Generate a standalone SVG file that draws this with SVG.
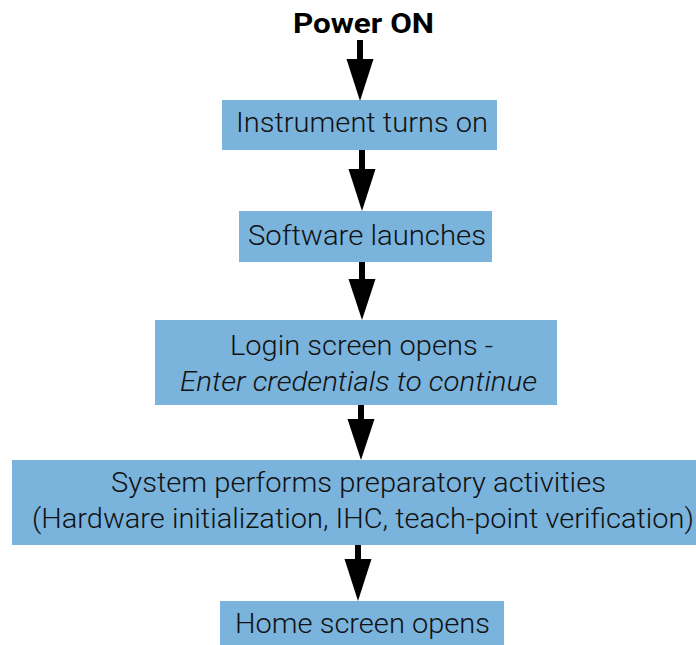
<svg xmlns="http://www.w3.org/2000/svg" width="696" height="645" viewBox="0 0 696 645">
<style>
.box{fill:#7ab3dc}
.t{font-family:Roboto,"Liberation Sans",sans-serif;font-weight:300;font-size:27px;fill:#111;text-anchor:middle}
.title{font-family:Roboto,"Liberation Sans",sans-serif;font-weight:700;font-size:28px;fill:#000;text-anchor:middle}
.c{stroke:#000;stroke-width:6;fill:none}
.h{fill:#000}
</style>
<rect width="696" height="645" fill="#fff"/>
<g id="title"><text class="title" x="363.5" y="33" textLength="141" lengthAdjust="spacingAndGlyphs">Power ON</text></g>
<g id="n1"><rect class="box" x="222" y="100" width="275" height="50"/><text class="t" x="362" y="132" textLength="252" lengthAdjust="spacingAndGlyphs">Instrument turns on</text></g>
<g id="n2"><rect class="box" x="239" y="211" width="253" height="51"/><text class="t" x="367" y="245" textLength="238" lengthAdjust="spacingAndGlyphs">Software launches</text></g>
<g id="n3"><rect class="box" x="155" y="320" width="402" height="85"/><text class="t" x="361.5" y="355" textLength="263" lengthAdjust="spacingAndGlyphs">Login screen opens -</text><text class="t" x="358.5" y="391" font-style="italic" textLength="357" lengthAdjust="spacingAndGlyphs">Enter credentials to continue</text></g>
<g id="n4"><rect class="box" x="12" y="460" width="690" height="85"/><text class="t" x="358.5" y="492" textLength="495" lengthAdjust="spacingAndGlyphs">System performs preparatory activities</text><text class="t" x="363" y="528" textLength="662" lengthAdjust="spacingAndGlyphs">(Hardware initialization, IHC, teach-point verification)</text></g>
<g id="n5"><rect class="box" x="220" y="601" width="284" height="44"/><text class="t" x="362.5" y="633" textLength="255" lengthAdjust="spacingAndGlyphs">Home screen opens</text></g>
<g id="connectors">
<line class="c" x1="360" y1="40" x2="360" y2="62"/><polygon class="h" points="346.5,59 373.5,59 360,101"/>
<line class="c" x1="362" y1="150" x2="362" y2="172"/><polygon class="h" points="348.5,169 375.5,169 362,211"/>
<line class="c" x1="362" y1="262" x2="362" y2="282"/><polygon class="h" points="348.5,279 375.5,279 362,320"/>
<line class="c" x1="361" y1="405" x2="361" y2="422"/><polygon class="h" points="347.5,419 374.5,419 361,460"/>
<line class="c" x1="358" y1="545" x2="358" y2="562"/><polygon class="h" points="344.5,559 371.5,559 358,601"/>
</g>
</svg>
